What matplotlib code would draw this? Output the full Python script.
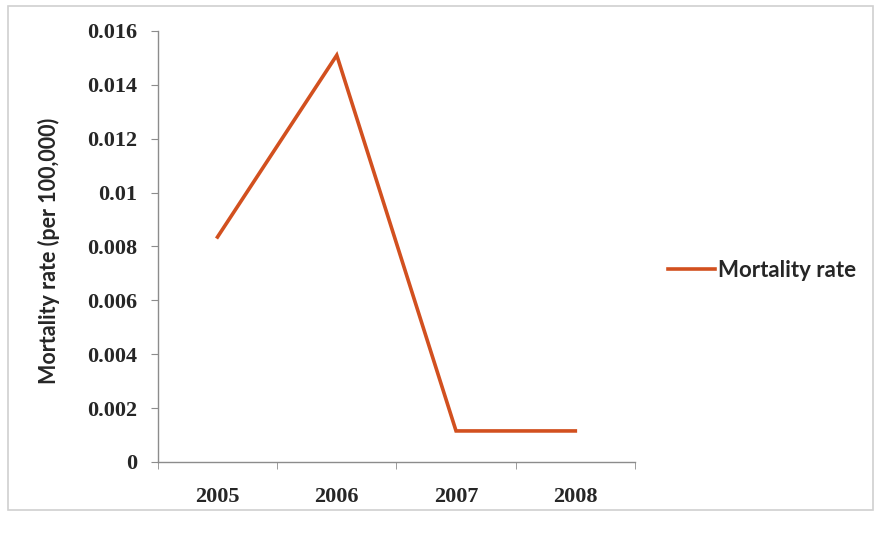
import matplotlib
matplotlib.use("Agg")
import matplotlib.pyplot as plt
from matplotlib.patches import Rectangle

# mortality data -------------------------------------------
years = ["2005", "2006", "2007", "2008"]
mortality = [0.00835, 0.0151, 0.00115, 0.00115]
yticks = [0, 0.002, 0.004, 0.006, 0.008, 0.01, 0.012, 0.014, 0.016]
ytick_labels = ["0", "0.002", "0.004", "0.006", "0.008", "0.01", "0.012", "0.014", "0.016"]

line_color = "#d2501f"
axis_color = "#8c8c8c"
text_color = "#262626"

fig = plt.figure(figsize=(8.77, 5.34), dpi=100)
ax = fig.add_axes([0.180, 0.135, 0.544, 0.807])

# outer chart frame
fig.patches.append(Rectangle((0.009, 0.045), 0.986, 0.944, transform=fig.transFigure,
                             fill=False, edgecolor="#d0d0d0", linewidth=1.2))

x = list(range(len(years)))
ax.plot(x, mortality, color=line_color, linewidth=2.6, label="Mortality rate",
        solid_joinstyle="miter")

#axes---------------------------------------------------------
ax.set_xlim(-0.5, len(years) - 0.5)
ax.set_ylim(0, 0.016)
ax.set_yticks(yticks)
ax.set_yticklabels(ytick_labels, family="Liberation Serif", fontweight="bold",
                   fontsize=16, color=text_color)
ax.set_xticks(x)
ax.set_xticklabels(years, family="Liberation Serif", fontweight="bold",
                   fontsize=16, color=text_color)
ax.set_xticks([i - 0.5 for i in range(len(years) + 1)], minor=True)
ax.tick_params(axis="x", which="major", length=0, pad=18)
ax.tick_params(axis="x", which="minor", length=5, color=axis_color, direction="out")
ax.tick_params(axis="y", length=5, color=axis_color, direction="out", pad=10)

for s in ["top", "right"]:
    ax.spines[s].set_visible(False)
for s in ["left", "bottom"]:
    ax.spines[s].set_color(axis_color)
    ax.spines[s].set_linewidth(1.0)

ax.set_ylabel("Mortality rate (per 100,000)", family="Lato", fontweight="bold",
              fontsize=15.5, color=text_color)
ax.yaxis.set_label_coords(-0.205, 0.49)

#legend-------------------------------------------------------
leg = fig.legend(loc="center left", bbox_to_anchor=(0.762, 0.493), frameon=False,
                 borderpad=0, borderaxespad=0, handlelength=2.1, handletextpad=0.12,
                 prop={"family": "Lato", "weight": "bold", "size": 16})
for t in leg.get_texts():
    t.set_color(text_color)

fig.savefig("out.png", dpi=100)
